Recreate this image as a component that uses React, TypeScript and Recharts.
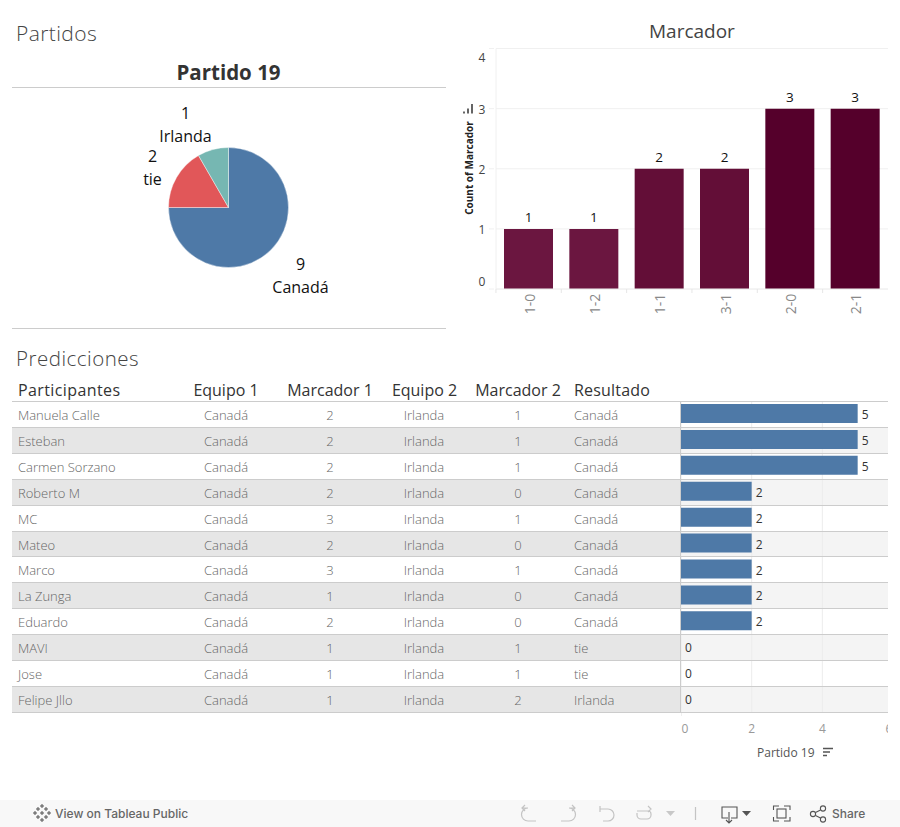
import React from "react";
import { PieChart, Pie, Cell, BarChart, Bar, XAxis, YAxis, CartesianGrid, LabelList } from "recharts";

const pieNames = ["Canadá", "tie", "Irlanda"];
const pieValues = [9, 2, 1];
const pieColors = ["#4e79a7", "#e15759", "#76b7b2"];

const scoreCategories = ["1-0", "1-2", "1-1", "3-1", "2-0", "2-1"];
const scoreCounts = [1, 1, 2, 2, 3, 3];
const scoreColors = ["#6b1640", "#6b1640", "#630e37", "#630e37", "#55002b", "#55002b"];
const scoreTicks = [0, 1, 2, 3, 4];

const participants = ["Manuela Calle", "Esteban", "Carmen Sorzano", "Roberto M", "MC", "Mateo", "Marco", "La Zunga", "Eduardo", "MAVI", "Jose", "Felipe Jllo"];
const equipo1 = ["Canadá", "Canadá", "Canadá", "Canadá", "Canadá", "Canadá", "Canadá", "Canadá", "Canadá", "Canadá", "Canadá", "Canadá"];
const marcador1 = [2, 2, 2, 2, 3, 2, 3, 1, 2, 1, 1, 1];
const equipo2 = ["Irlanda", "Irlanda", "Irlanda", "Irlanda", "Irlanda", "Irlanda", "Irlanda", "Irlanda", "Irlanda", "Irlanda", "Irlanda", "Irlanda"];
const marcador2 = [1, 1, 1, 0, 1, 0, 1, 0, 0, 1, 1, 2];
const resultado = ["Canadá", "Canadá", "Canadá", "Canadá", "Canadá", "Canadá", "Canadá", "Canadá", "Canadá", "tie", "tie", "Irlanda"];
const puntos = [5, 5, 5, 2, 2, 2, 2, 2, 2, 0, 0, 0];
const puntosTicks = [0, 2, 4, 6];

const pieData = pieNames.map((name, i) => ({ name, value: pieValues[i] }));
const scoreData = scoreCategories.map((name, i) => ({ name, value: scoreCounts[i] }));
const rowData = participants.map((name, i) => ({ name, value: puntos[i] }));

const FONT = "'Open Sans', sans-serif";
const ROW_TOP = 402;
const ROW_H = 25.9;

const abs = (o: React.CSSProperties): React.CSSProperties => ({ position: "absolute", whiteSpace: "nowrap", ...o });

const labelShift: Record<string, [number, number]> = {
  "Canadá": [72, 68],
  "tie": [-76, -40],
  "Irlanda": [-43, -83],
};

const PieLabel = (p: any) => {
  const [dx, dy] = labelShift[p.name];
  const x = p.cx + dx;
  const y = p.cy + dy;
  return (
    <text x={x} textAnchor="middle" fontSize={16} fill="#111" fontFamily={FONT}>
      <tspan x={x} y={y - 6}>{p.value}</tspan>
      <tspan x={x} y={y + 17}>{p.name}</tspan>
    </text>
  );
};

const ScoreYTick = (p: any) => {
  const v = p.payload.value;
  const shift = v === 4 ? 9 : v === 0 ? -7 : 1;
  return (
    <g>
      <line x1={p.x + 1} x2={p.x + 6} y1={p.y} y2={p.y} stroke="#f0f0f0" />
      <text x={p.x - 6} y={p.y + shift + 4} textAnchor="middle" fontSize={12} fill="#444" fontFamily={FONT}>{v}</text>
    </g>
  );
};

const ScoreXTick = (p: any) => (
  <g>
    <line x1={p.x - 32.7} x2={p.x - 32.7} y1={p.y - 8} y2={p.y - 4} stroke="#e6e6e6" />
    <text transform={`translate(${p.x + 6},${p.y + 7}) rotate(-90)`} textAnchor="middle" fontSize={14} fill="#888" fontFamily={FONT}>{p.payload.value}</text>
  </g>
);

const PuntosTick = (p: any) => {
  const v = p.payload.value;
  const shift = v === 0 ? 4 : v === 6 ? -4 : 0;
  return (
    <g>
      {v === 0 ? <line x1={p.x} x2={p.x} y1={p.y - 8} y2={p.y - 4} stroke="#e0e0e0" /> : null}
      <text x={p.x + shift} y={p.y + 13} textAnchor="middle" fontSize={12} fill="#999" fontFamily={FONT}>{v}</text>
    </g>
  );
};

const RowLabel = (p: any) => (
  <text x={p.x + p.width + 4} y={p.y + p.height / 2 + 5.5} fontSize={12} fill="#333" fontFamily={FONT}>{p.value}</text>
);

const Header = ({ x, w, children, align = "center", spacing = 0 }: any) => (
  <div style={abs({ left: x - (align === "center" ? w / 2 : 0), width: w, top: 379, lineHeight: "22px", fontSize: 16, letterSpacing: spacing, color: "#333", textAlign: align, fontFamily: FONT })}>{children}</div>
);

const Column = ({ x, values, align = "center" }: any) => (
  <>
    {values.map((v: any, i: number) => (
      <div key={i} style={abs({ left: align === "center" ? x - 50 : x, width: 100, top: ROW_TOP + i * ROW_H, lineHeight: `${ROW_H + 1}px`, fontSize: 13, fontWeight: 300, color: "#666", textAlign: align, fontFamily: FONT })}>{v}</div>
    ))}
  </>
);

const Toolbar = () => (
  <svg width={900} height={27} style={{ position: "absolute", left: 0, top: 800 }} fill="none">
    <g stroke="#555" strokeWidth={1}>
      {[[42, 6], [42, 20], [35, 13], [49, 13], [38, 9], [46, 9], [38, 17], [46, 17], [42, 13]].map(([x, y], i) => (
        <path key={i} d={`M${x - 2} ${y}H${x + 2}M${x} ${y - 2}V${y + 2}`} />
      ))}
    </g>
    <g stroke="#c4c4c4" strokeWidth={1.2}>
      <path d="M536 21H528a6 6 0 0 1 0 -13H522M525 5l-3 3 3 3" />
      <path d="M561 21H569a6 6 0 0 0 0 -13H575M572 5l3 3-3 3" />
      <path d="M600 6V12M600 9H608a6 6 0 0 1 0 12H603" />
      <path d="M637 11H648a3 3 0 0 1 3 3v1a4 4 0 0 1 -4 4H641a4 4 0 0 1 -4 -4v-2M648 6l3 3-3 3" />
      <path d="M695.5 7V20" />
    </g>
    <path d="M666 11h9l-4.5 5z" fill="#c8c8c8" />
    <g stroke="#555" strokeWidth={1.1}>
      <path d="M728 18H722V7H737V18H731M729 12V23M726 20l3 3 3-3" />
      <rect x={777} y={9} width={9} height={9} />
      <path d="M773.5 10V6H779M784 6H790V10M790 17V21H784M779 21H773.5V17" />
      <circle cx={813} cy={14} r={2.6} />
      <circle cx={823} cy={8.5} r={2.6} />
      <circle cx={823} cy={19.5} r={2.6} />
      <path d="M815.5 12.6L820.5 9.9M815.5 15.4L820.5 18.1" />
    </g>
    <path d="M742 11h9l-4.5 5z" fill="#555" />
  </svg>
);

export default function App() {
  return (
    <div style={{ position: "relative", width: 900, height: 827, overflow: "hidden", background: "#fff", fontFamily: FONT }}>
      <style>{"html,body{margin:0;padding:0;overflow:hidden;background:#fff}"}</style>
      <div style={abs({ left: 16, top: 19, fontSize: 21, lineHeight: "28px", fontWeight: 300, color: "#444", letterSpacing: 0.4 })}>Partidos</div>
      <div style={abs({ left: 12, width: 433, top: 57.5, textAlign: "center", fontSize: 20.5, lineHeight: "28px", fontWeight: 700, color: "#333" })}>Partido 19</div>
      <div style={abs({ left: 12, width: 434, top: 87, height: 1, background: "#ccc" })} />
      <div style={abs({ left: 12, width: 434, top: 328, height: 1, background: "#ccc" })} />

      <div style={abs({ left: 12, top: 88 })}>
        <PieChart width={434} height={240} margin={{ top: 0, right: 0, bottom: 0, left: 0 }}>
          <Pie data={pieData} dataKey="value" nameKey="name" cx={216.5} cy={119.5} outerRadius={60} innerRadius={0} startAngle={90} endAngle={-270} stroke="#fff" strokeWidth={0.4} label={PieLabel} labelLine={false} isAnimationActive={false}>
            {pieData.map((d, i) => <Cell key={d.name} fill={pieColors[i]} />)}
          </Pie>
        </PieChart>
      </div>

      <div style={abs({ left: 649, top: 17, fontSize: 19, lineHeight: "28px", color: "#444" })}>Marcador</div>
      <div style={abs({ left: 469, top: 167.5, fontSize: 10, fontWeight: 700, color: "#222", lineHeight: "12px", transform: "translate(-50%,-50%) rotate(-90deg)" })}>Count of Marcador</div>
      <svg width={12} height={12} style={{ position: "absolute", left: 462, top: 103 }}>
        <path d="M2 10.5v-2M6 10.5v-5M10 10.5v-9.5" stroke="#555" strokeWidth={1.8} fill="none" />
      </svg>
      <div style={abs({ left: 450, top: 40 })}>
        <BarChart width={450} height={290} data={scoreData} margin={{ top: 8.5, right: 12, bottom: 0, left: 0 }} barCategoryGap={0}>
          <CartesianGrid vertical={false} stroke="#f0f0f0" />
          <XAxis dataKey="name" type="category" height={41} axisLine={{ stroke: "#f0f0f0" }} tickLine={false} interval={0} tick={ScoreXTick} />
          <YAxis type="number" domain={[0, 4]} ticks={scoreTicks} width={46} axisLine={{ stroke: "#f0f0f0" }} tickLine={false} tick={ScoreYTick} interval={0} />
          <Bar dataKey="value" barSize={49} isAnimationActive={false}>
            {scoreData.map((d, i) => <Cell key={d.name} fill={scoreColors[i]} />)}
            <LabelList dataKey="value" position="top" offset={7} fontSize={13.5} fill="#111" fontFamily={FONT} />
          </Bar>
        </BarChart>
      </div>

      <div style={abs({ left: 16, top: 344, fontSize: 20.5, lineHeight: "28px", fontWeight: 300, color: "#444", letterSpacing: 0.5 })}>Predicciones</div>
      <Header x={18} w={150} align="left" spacing={0.4}>Participantes</Header>
      <Header x={226} w={100}>Equipo 1</Header>
      <Header x={330} w={110}>Marcador 1</Header>
      <Header x={424.5} w={100}>Equipo 2</Header>
      <Header x={518} w={110}>Marcador 2</Header>
      <Header x={574} w={100} align="left" spacing={0.2}>Resultado</Header>

      {participants.map((p, i) => i % 2 === 1 ? (
        <React.Fragment key={p}>
          <div style={abs({ left: 12, width: 668, top: ROW_TOP + i * ROW_H, height: ROW_H, background: "#e6e6e6" })} />
          <div style={abs({ left: 681, width: 207, top: ROW_TOP + i * ROW_H, height: ROW_H, background: "#f4f4f4" })} />
        </React.Fragment>
      ) : null)}

      <Column x={18} values={participants} align="left" />
      <Column x={226} values={equipo1} />
      <Column x={330} values={marcador1} />
      <Column x={424} values={equipo2} />
      <Column x={518} values={marcador2} />
      <Column x={574} values={resultado} align="left" />

      <div style={abs({ left: 0, top: 0, width: 888, height: 790, overflow: "hidden" })}>
        <div style={abs({ left: 681, top: ROW_TOP - 1 })}>
          <BarChart width={225} height={346} layout="vertical" data={rowData} margin={{ top: 0, right: 13, bottom: 0, left: 0 }}>
            <CartesianGrid horizontal={false} stroke="#ececec" />
            <XAxis type="number" domain={[0, 6]} ticks={puntosTicks} height={35} axisLine={false} tickLine={false} tick={PuntosTick} interval={0} />
            <YAxis type="category" dataKey="name" width={0} hide />
            <Bar dataKey="value" barSize={19} fill="#4e79a7" minPointSize={0.01} isAnimationActive={false}>
              <LabelList dataKey="value" content={RowLabel} />
            </Bar>
          </BarChart>
        </div>
      </div>

      {Array.from({ length: 13 }, (_, i) => (
        <div key={i} style={abs({ left: 12, width: 876, top: Math.round(ROW_TOP + i * ROW_H) - 1, height: 1, background: "#ccc" })} />
      ))}
      <div style={abs({ left: 680, width: 1, top: ROW_TOP, height: 310, background: "#ccc" })} />

      <div style={abs({ left: 757, top: 745, fontSize: 12, lineHeight: "16px", color: "#555" })}>Partido 19</div>
      <svg width={12} height={12} style={{ position: "absolute", left: 822, top: 747 }}>
        <path d="M1 1.5H11M1 5H8M1 8.5H5" stroke="#555" strokeWidth={1.4} fill="none" />
      </svg>

      <div style={abs({ left: 0, top: 800, width: 900, height: 27, background: "#f8f8f8" })} />
      <div style={abs({ left: 55, top: 805, fontSize: 12, lineHeight: "17px", color: "#666", fontWeight: 500, fontFamily: "Inter, sans-serif" })}>View on Tableau Public</div>
      <div style={abs({ left: 832, top: 805, fontSize: 12, lineHeight: "17px", color: "#666", fontWeight: 500, fontFamily: "Inter, sans-serif" })}>Share</div>
      <Toolbar />
    </div>
  );
}
